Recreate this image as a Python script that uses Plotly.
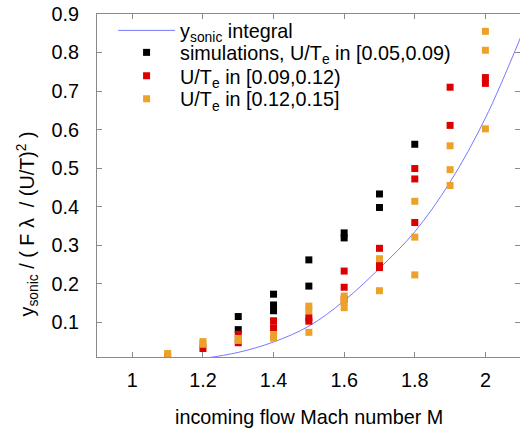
import plotly.graph_objects as go

# integral curve
curve_M = [1.2, 1.3, 1.4, 1.5, 1.6, 1.7, 1.8, 1.9, 2.0, 2.1]
curve_y = [0.006, 0.022, 0.049, 0.090, 0.156, 0.240, 0.335, 0.464, 0.630, 0.840]

# simulations, U/Te in [0.05,0.09)
black_M = [1.3, 1.3, 1.4, 1.4, 1.4, 1.5, 1.5, 1.6, 1.6, 1.7, 1.7, 1.8]
black_y = [0.115, 0.081, 0.173, 0.145, 0.130, 0.262, 0.194, 0.332, 0.319, 0.433, 0.398, 0.562]

# U/Te in [0.09,0.12)
red_M = [1.1, 1.2, 1.3, 1.3, 1.4, 1.4, 1.5, 1.5, 1.6, 1.6, 1.6, 1.7, 1.7, 1.7,
         1.8, 1.8, 1.8, 1.9, 1.9, 2.0, 2.0]
red_y = [0.011, 0.032, 0.069, 0.047, 0.104, 0.086, 0.112, 0.103, 0.233, 0.191, 0.160,
         0.292, 0.248, 0.242, 0.499, 0.472, 0.359, 0.710, 0.611, 0.735, 0.720]

# U/Te in [0.12,0.15]
orange_M = [1.1, 1.2, 1.2, 1.3, 1.3, 1.4, 1.4, 1.5, 1.5, 1.5, 1.6, 1.6, 1.6,
            1.7, 1.7, 1.8, 1.8, 1.8, 1.9, 1.9, 1.9, 2.0, 2.0, 2.0]
orange_y = [0.019, 0.050, 0.043, 0.058, 0.053, 0.068, 0.059, 0.142, 0.130, 0.074,
            0.168, 0.152, 0.138, 0.265, 0.182, 0.414, 0.321, 0.223, 0.558, 0.496,
            0.455, 0.855, 0.806, 0.602]

x_ticks = [1, 1.2, 1.4, 1.6, 1.8, 2]
y_ticks = [0.1, 0.2, 0.3, 0.4, 0.5, 0.6, 0.7, 0.8, 0.9]

FONT = "Liberation Sans, Arial, Helvetica, sans-serif"
FS = 19.8
MS = 7

W, H = 520, 429
ML, MR, MT, MB = 97, 0, 14, 72
PH = H - MT - MB

fig = go.Figure()
fig.add_trace(go.Scatter(x=curve_M, y=curve_y, mode="lines", line_shape="spline",
                         line=dict(color="#7878ff", width=1),
                         name="y<sub>sonic</sub> integral", legend="legend"))
fig.add_trace(go.Scatter(x=black_M, y=black_y, mode="markers",
                         marker=dict(symbol="square", size=MS, color="#000000", line_width=0),
                         name="simulations, U/T<sub>e</sub> in [0.05,0.09)", legend="legend2"))
fig.add_trace(go.Scatter(x=red_M, y=red_y, mode="markers",
                         marker=dict(symbol="square", size=MS, color="#dc0000", line_width=0),
                         name="U/T<sub>e</sub> in [0.09,0.12)", legend="legend3"))
fig.add_trace(go.Scatter(x=orange_M, y=orange_y, mode="markers",
                         marker=dict(symbol="square", size=MS, color="#eca22a", line_width=0),
                         name="U/T<sub>e</sub> in [0.12,0.15]", legend="legend4"))

axis_common = dict(showline=True, linecolor="#8a8a8a", linewidth=1, mirror="ticks",
                   ticks="inside", ticklen=5, tickcolor="#8a8a8a", tickwidth=1,
                   showgrid=False, zeroline=False,
                   tickfont=dict(family=FONT, size=FS, color="#000000"))

row_centers = [31, 53, 76.5, 99.3]   # legend row positions (pixels from top)


def legend_box(c):
    return dict(x=0.038, y=(H - MB - (c - 20)) / PH, xanchor="left", yanchor="top",
                bgcolor="rgba(0,0,0,0)", itemwidth=57, font=dict(family=FONT, size=FS))


fig.update_layout(
    width=W, height=H,
    margin=dict(l=ML, r=MR, t=MT, b=MB),
    paper_bgcolor="white", plot_bgcolor="white",
    font=dict(family=FONT, size=FS, color="#000000"),
    xaxis=dict(range=[0.9, 2.098], tickvals=x_ticks, ticktext=["1", "1.2", "1.4", "1.6", "1.8", "2"],
               ticklabelstandoff=5, **axis_common),
    yaxis=dict(range=[0.01, 0.9], tickvals=y_ticks, ticktext=[str(v) for v in y_ticks],
               ticklabelstandoff=13, **axis_common),
    showlegend=True,
    legend=legend_box(row_centers[0]),
    legend2=legend_box(row_centers[1]),
    legend3=legend_box(row_centers[2]),
    legend4=legend_box(row_centers[3]),
    annotations=[
        dict(text="incoming flow Mach number M", xref="paper", yref="paper",
             x=0.5, y=-0.176, xanchor="center", yanchor="middle", showarrow=False,
             font=dict(family=FONT, size=FS)),
        dict(text="y<sub>sonic</sub> / ( F λ  / (U/T)<sup>2</sup> )", xref="paper", yref="paper",
             x=-0.165, y=0.387, xanchor="center", yanchor="middle", textangle=-90,
             showarrow=False, font=dict(family=FONT, size=FS)),
    ],
)

fig.write_html("out.html", config={"displayModeBar": False},
               post_script="document.body.style.margin='0';document.body.style.overflow='hidden';")
